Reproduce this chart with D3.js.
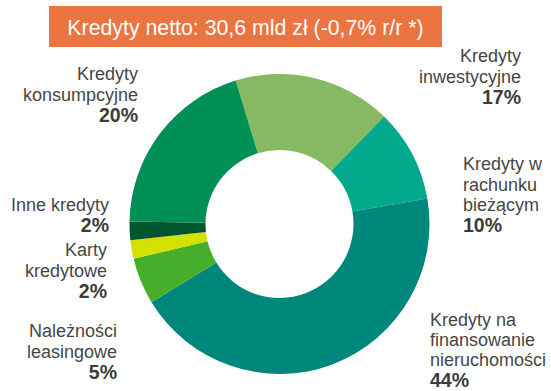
<!DOCTYPE html>
<html lang="pl">
<head>
<meta charset="utf-8">
<script src="https://cdn.jsdelivr.net/npm/d3@7"></script>
<style>
  html, body { margin: 0; padding: 0; background: #ffffff; }
  svg { display: block; font-family: "Liberation Sans", Arial, sans-serif; }
</style>
</head>
<body>
<svg id="chart" width="551" height="391"></svg>
<script>
// Loan portfolio structure (net loans), share of total in percent
const title = "Kredyty netto: 30,6 mld zł (-0,7% r/r *)";
const categories = [
  "Kredyty inwestycyjne",
  "Kredyty w rachunku bieżącym",
  "Kredyty na finansowanie nieruchomości",
  "Należności leasingowe",
  "Karty kredytowe",
  "Inne kredyty",
  "Kredyty konsumpcyjne"
];
const shares = [17, 10, 44, 5, 2, 2, 20];
const labelLines = [
  ["Kredyty", "inwestycyjne"],
  ["Kredyty w", "rachunku", "bieżącym"],
  ["Kredyty na", "finansowanie", "nieruchomości"],
  ["Należności", "leasingowe"],
  ["Karty", "kredytowe"],
  ["Inne kredyty"],
  ["Kredyty", "konsumpcyjne"]
];
const sliceColors = ["#87b962", "#02a98d", "#00877b", "#46ae2b", "#d3e000", "#00552f", "#008f55"];

// Label placement: anchor x, first baseline y, text-anchor, line step
const labelPlacement = [
  { x: 521, y: 62,  anchor: "end",   step: 20.5 },
  { x: 463, y: 170, anchor: "start", step: 20.5 },
  { x: 430, y: 326, anchor: "start", step: 20 },
  { x: 117, y: 337, anchor: "end",   step: 20.5 },
  { x: 107, y: 256, anchor: "end",   step: 20.5 },
  { x: 109, y: 211, anchor: "end",   step: 20.5 },
  { x: 138, y: 80,  anchor: "end",   step: 20.5 }
];

const svg = d3.select("#chart");

// Title banner
const banner = svg.append("g");
banner.append("rect")
  .attr("x", 49).attr("y", 6)
  .attr("width", 393).attr("height", 41)
  .attr("fill", "#ec7441");
banner.append("text")
  .attr("x", 245.5).attr("y", 34.5)
  .attr("text-anchor", "middle")
  .attr("fill", "#ffffff")
  .style("font-size", "21.3px")
  .text(title);

// Donut
const cx = 279.5, cy = 224, outerR = 150, innerR = 74;
const startAngle = -17 * Math.PI / 180;

const pie = d3.pie()
  .sort(null)
  .value(d => d)
  .startAngle(startAngle)
  .endAngle(startAngle + 2 * Math.PI);

const arc = d3.arc().innerRadius(innerR).outerRadius(outerR);

const color = d3.scaleOrdinal().domain(categories).range(sliceColors);

svg.append("g")
  .attr("transform", `translate(${cx},${cy})`)
  .selectAll("path")
  .data(pie(shares))
  .join("path")
  .attr("d", arc)
  .attr("fill", (d, i) => color(categories[i]));

// Category labels with percentage
const fmt = v => `${v}%`;
const labels = svg.append("g");
categories.forEach((c, i) => {
  const p = labelPlacement[i];
  const t = labels.append("text")
    .attr("x", p.x).attr("y", p.y)
    .attr("text-anchor", p.anchor);
  labelLines[i].forEach((line, j) => {
    t.append("tspan")
      .attr("x", p.x)
      .attr("dy", j === 0 ? 0 : p.step)
      .attr("fill", "#464646")
      .style("font-size", "18px")
      .text(line);
  });
  t.append("tspan")
    .attr("x", p.x)
    .attr("dy", p.step + 0.5)
    .attr("fill", "#3b3b3b")
    .style("font-size", "19.5px")
    .style("font-weight", "bold")
    .text(fmt(shares[i]));
});
</script>
</body>
</html>
